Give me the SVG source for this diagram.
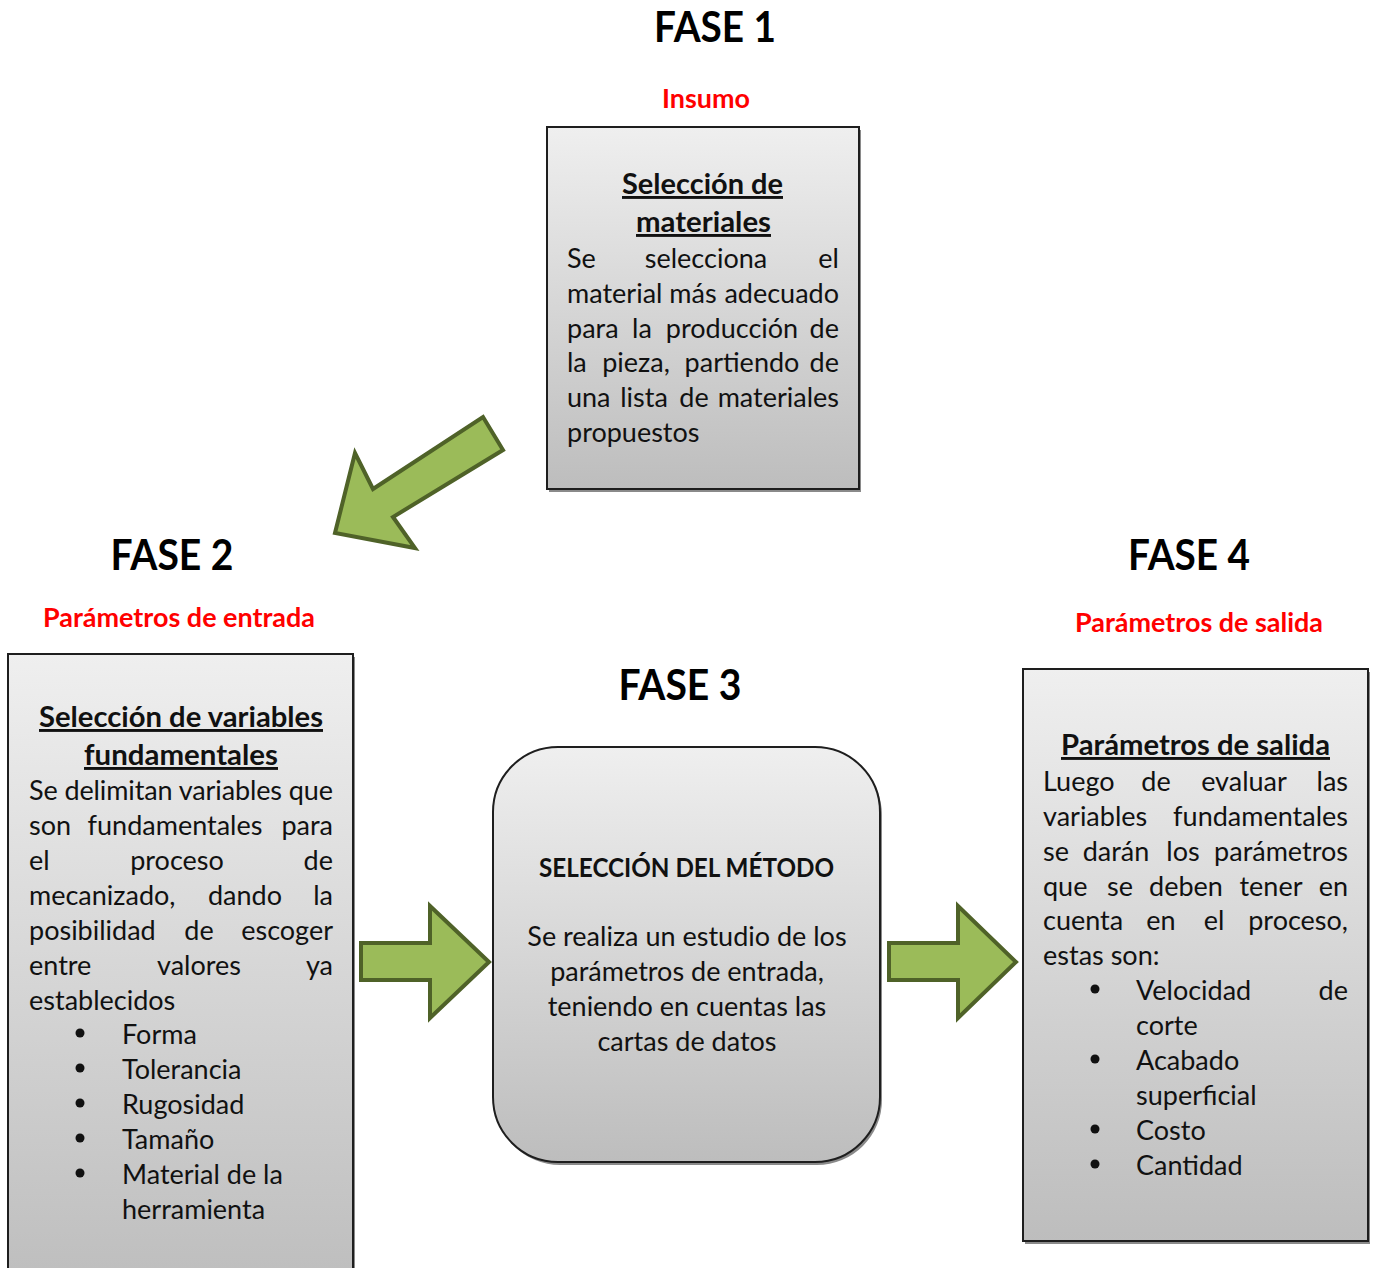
<svg xmlns="http://www.w3.org/2000/svg" width="1374" height="1268" viewBox="0 0 1374 1268">
  <defs>
    <linearGradient id="boxFill" x1="0" y1="0" x2="0" y2="1">
      <stop offset="0" stop-color="#efefef"/>
      <stop offset="1" stop-color="#bdbdbd"/>
    </linearGradient>
    <style>
      .box { fill: url(#boxFill); stroke: #1e1e1e; stroke-width: 2; }
      .shadow { fill: #8a8a8a; }
      .arrow { fill: #9bbb59; stroke: #4f6228; stroke-width: 4; stroke-linejoin: miter; }
      .phase { font-family: Lato, "Liberation Sans", sans-serif; font-weight: 700; font-size: 42px; fill: #000; text-anchor: middle; }
      .tag { font-family: Lato, "Liberation Sans", sans-serif; font-weight: 700; font-size: 26px; fill: #ff0000; text-anchor: middle; }
      .head { font-family: Lato, "Liberation Sans", sans-serif; font-weight: 700; font-size: 29px; fill: #111; text-anchor: middle; text-decoration: underline; }
      .body { font-family: Lato, "Liberation Sans", sans-serif; font-size: 27px; fill: #111; }
      .mid { text-anchor: middle; }
      .end { text-anchor: end; }
      .caps { font-family: Lato, "Liberation Sans", sans-serif; font-weight: 700; font-size: 26px; fill: #111; text-anchor: middle; }
      .dot { fill: #111; }
    </style>
  </defs>

  <rect width="1374" height="1268" fill="#ffffff"/>

  <!-- phase titles and red captions -->
  <g id="titles">
    <text class="phase" x="715" y="42" textLength="122" lengthAdjust="spacingAndGlyphs">FASE 1</text>
    <text class="tag" x="706" y="108" textLength="88" lengthAdjust="spacingAndGlyphs">Insumo</text>
    <text class="phase" x="172" y="570" textLength="123" lengthAdjust="spacingAndGlyphs">FASE 2</text>
    <text class="tag" x="179" y="627" textLength="272" lengthAdjust="spacingAndGlyphs">Parámetros de entrada</text>
    <text class="phase" x="680" y="700" textLength="123" lengthAdjust="spacingAndGlyphs">FASE 3</text>
    <text class="phase" x="1189" y="570" textLength="122" lengthAdjust="spacingAndGlyphs">FASE 4</text>
    <text class="tag" x="1199" y="632" textLength="248" lengthAdjust="spacingAndGlyphs">Parámetros de salida</text>
  </g>

  <!-- Fase 1: material selection -->
  <g id="node-materiales">
    <rect class="shadow" x="549" y="130" width="312" height="362"/>
    <rect class="box" x="547" y="127" width="312" height="362"/>
    <text class="head" x="702.5" y="194" textLength="161" lengthAdjust="spacingAndGlyphs">Selección de</text>
    <text class="head" x="703.5" y="232" textLength="135" lengthAdjust="spacingAndGlyphs">materiales</text>
    <text class="body" y="268"><tspan x="567">Se</tspan><tspan class="mid" x="706">selecciona</tspan><tspan class="end" x="839">el</tspan></text>
    <text class="body" y="303"><tspan x="567">material</tspan><tspan class="mid" x="693">más</tspan><tspan class="end" x="839">adecuado</tspan></text>
    <text class="body" y="337.6"><tspan x="567">para</tspan><tspan class="mid" x="642">la</tspan><tspan class="mid" x="732">producción</tspan><tspan class="end" x="839">de</tspan></text>
    <text class="body" y="372.4"><tspan x="567">la</tspan><tspan class="mid" x="636">pieza,</tspan><tspan class="mid" x="742">partiendo</tspan><tspan class="end" x="839">de</tspan></text>
    <text class="body" y="407.2"><tspan x="567">una</tspan><tspan class="mid" x="644">lista</tspan><tspan class="mid" x="694">de</tspan><tspan class="end" x="839">materiales</tspan></text>
    <text class="body" x="567" y="442">propuestos</text>
  </g>

  <!-- Fase 2: fundamental variables -->
  <g id="node-variables">
    <rect class="shadow" x="10" y="657" width="345" height="640"/>
    <rect class="box" x="8" y="654" width="345" height="640"/>
    <text class="head" x="181" y="727" textLength="284" lengthAdjust="spacingAndGlyphs">Selección de variables</text>
    <text class="head" x="181" y="765" textLength="194" lengthAdjust="spacingAndGlyphs">fundamentales</text>
    <text class="body" x="29" y="800" textLength="304" lengthAdjust="spacing">Se delimitan variables que</text>
    <text class="body" y="835"><tspan x="29">son</tspan><tspan class="mid" x="175">fundamentales</tspan><tspan class="end" x="333">para</tspan></text>
    <text class="body" y="870"><tspan x="29">el</tspan><tspan class="mid" x="177">proceso</tspan><tspan class="end" x="333">de</tspan></text>
    <text class="body" y="905"><tspan x="29">mecanizado,</tspan><tspan class="mid" x="245">dando</tspan><tspan class="end" x="333">la</tspan></text>
    <text class="body" y="940"><tspan x="29">posibilidad</tspan><tspan class="mid" x="199">de</tspan><tspan class="end" x="333">escoger</tspan></text>
    <text class="body" y="975"><tspan x="29">entre</tspan><tspan class="mid" x="199">valores</tspan><tspan class="end" x="333">ya</tspan></text>
    <text class="body" x="29" y="1010">establecidos</text>
    <circle class="dot" cx="80" cy="1033" r="4.5"/>
    <circle class="dot" cx="80" cy="1068" r="4.5"/>
    <circle class="dot" cx="80" cy="1103" r="4.5"/>
    <circle class="dot" cx="80" cy="1138" r="4.5"/>
    <circle class="dot" cx="80" cy="1173" r="4.5"/>
    <text class="body" x="122" y="1044">Forma</text>
    <text class="body" x="122" y="1079">Tolerancia</text>
    <text class="body" x="122" y="1114">Rugosidad</text>
    <text class="body" x="122" y="1149">Tamaño</text>
    <text class="body" x="122" y="1184">Material de la</text>
    <text class="body" x="122" y="1219">herramienta</text>
  </g>

  <!-- Fase 3: method selection -->
  <g id="node-metodo">
    <rect class="shadow" x="495" y="750" width="387" height="415" rx="65" ry="65"/>
    <rect class="box" x="493" y="747" width="387" height="415" rx="65" ry="65"/>
    <text class="caps" x="686.5" y="877" textLength="295" lengthAdjust="spacingAndGlyphs">SELECCIÓN DEL MÉTODO</text>
    <text class="body mid" x="687" y="946">Se realiza un estudio de los</text>
    <text class="body mid" x="687" y="981">parámetros de entrada,</text>
    <text class="body mid" x="687" y="1016">teniendo en cuentas las</text>
    <text class="body mid" x="687" y="1051">cartas de datos</text>
  </g>

  <!-- Fase 4: output parameters -->
  <g id="node-salida">
    <rect class="shadow" x="1025" y="672" width="345" height="572"/>
    <rect class="box" x="1023" y="669" width="345" height="572"/>
    <text class="head" x="1195.5" y="755" textLength="269" lengthAdjust="spacingAndGlyphs">Parámetros de salida</text>
    <text class="body" y="791"><tspan x="1043">Luego</tspan><tspan class="mid" x="1156">de</tspan><tspan class="mid" x="1244">evaluar</tspan><tspan class="end" x="1348">las</tspan></text>
    <text class="body" y="826"><tspan x="1043">variables</tspan><tspan class="end" x="1348">fundamentales</tspan></text>
    <text class="body" y="861"><tspan x="1043">se</tspan><tspan class="mid" x="1116">darán</tspan><tspan class="mid" x="1183">los</tspan><tspan class="end" x="1348">parámetros</tspan></text>
    <text class="body" y="896"><tspan x="1043">que</tspan><tspan class="mid" x="1120">se</tspan><tspan class="mid" x="1186">deben</tspan><tspan class="mid" x="1271">tener</tspan><tspan class="end" x="1348">en</tspan></text>
    <text class="body" y="930"><tspan x="1043">cuenta</tspan><tspan class="mid" x="1161">en</tspan><tspan class="mid" x="1214">el</tspan><tspan class="end" x="1348">proceso,</tspan></text>
    <text class="body" x="1043" y="965">estas son:</text>
    <circle class="dot" cx="1095" cy="989" r="4.5"/>
    <circle class="dot" cx="1095" cy="1059" r="4.5"/>
    <circle class="dot" cx="1095" cy="1129" r="4.5"/>
    <circle class="dot" cx="1095" cy="1164" r="4.5"/>
    <text class="body" y="1000"><tspan x="1136">Velocidad</tspan><tspan class="end" x="1348">de</tspan></text>
    <text class="body" x="1136" y="1035">corte</text>
    <text class="body" x="1136" y="1070">Acabado</text>
    <text class="body" x="1136" y="1105">superficial</text>
    <text class="body" x="1136" y="1140">Costo</text>
    <text class="body" x="1136" y="1175">Cantidad</text>
  </g>

  <!-- block arrows linking the phases -->
  <g id="connectors">
    <polygon class="arrow" points="483,417 503,450 393,517 415,548 335,533 355,453 373,489"/>
    <polygon class="arrow" points="361,943 430,943 430,906 489,962 430,1018 430,980 361,980"/>
    <polygon class="arrow" points="889,943 958,943 958,906 1016,962 958,1018 958,980 889,980"/>
  </g>
</svg>
